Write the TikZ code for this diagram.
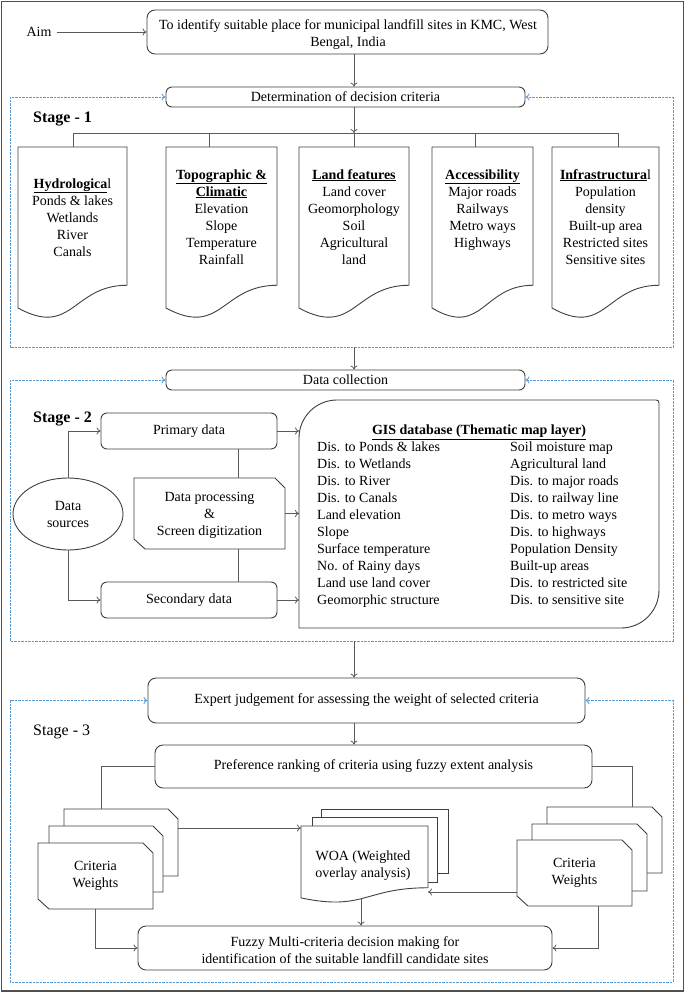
\documentclass[tikz,border=0pt]{standalone}
\usepackage{fontspec}
\setmainfont{Liberation Serif}
\usetikzlibrary{calc,shapes.geometric,arrows.meta}
\definecolor{boxln}{HTML}{3F3F3F}
\definecolor{connln}{HTML}{5A5A5A}
\definecolor{dashbl}{HTML}{5B9BD5}
\definecolor{frameln}{HTML}{505050}

\newcommand\areanode[6][]{\node[inner sep=0pt, outer sep=0pt, minimum width={(#5-#3)*1pt}, minimum height={(#6-#4)*1pt}, #1] (#2) at ({(#3+#5)/2},{(#4+#6)/2}) {};}
\newcommand\mkbox[7][]{\node[rbox, minimum width={(#5-#3)*1pt}, minimum height={(#6-#4)*1pt}, #1] (#2) at ({(#3+#5)/2},{(#4+#6)/2}) {#7};}
\newcommand\docshape[2][]{\draw[boxln, line width=0.9pt, fill=white, #1] (#2.north west) -- (#2.north east) -- ($(#2.north east)!0.802!(#2.south east)$) .. controls ($(#2.north)!0.802!(#2.south)$) and ($(#2.north)!1.107!(#2.south)$) .. ($(#2.north west)!0.934!(#2.south west)$) -- cycle;}
\newcommand\chamshape[3][]{\draw[boxln, line width=0.9pt, fill=white, #1] (#2.north west) -- ($(#2.north east)+(-#3,0)$) -- ($(#2.north east)+(0,#3)$) -- (#2.south east) -- ($(#2.south west)+(#3+1,0)$) -- ($(#2.south west)+(0,-#3)$) -- cycle;}

\begin{document}
\begin{tikzpicture}[x=1pt,y=-1pt,
  >={To[length=4pt,width=7pt]},
  font=\fontsize{14}{17}\selectfont,
  rbox/.style={draw=boxln, line width=0.9pt, rounded corners=6pt, inner sep=0pt, align=center, fill=white},
  txt/.style={inner sep=0pt, align=center},
  conn/.style={draw=connln, line width=0.8pt, ->},
  plain/.style={draw=connln, line width=0.8pt},
  dashline/.style={draw=dashbl, line width=0.9pt, dash pattern=on 2.2pt off 1.3pt, <->},
  stagelbl/.style={inner sep=0pt, anchor=base west, font=\fontsize{16}{19}\selectfont}]

\useasboundingbox (0,0) rectangle (685,993);
\fill[white] (0,0) rectangle (685,993);
\draw[frameln, line width=1.8pt] (1.5,1.5) rectangle (683.5,991);

\coordinate (spine) at (354,0);
\coordinate (L) at (10,0);
\coordinate (R) at (673,0);
\coordinate (S1b) at (0,347);
\coordinate (S2b) at (0,641);
\coordinate (S3b) at (0,982);

% ---------- top ----------
\node[txt] (aim) at (39,32) {Aim};
\mkbox[rounded corners=8pt]{aimbox}{147}{10}{548}{54}{}
\node[txt] (aimt) at (348,35) {To identify suitable place for municipal landfill sites in KMC, West\\Bengal, India};
\draw[conn, shorten <=5pt] (aim) -- (aimbox);

\mkbox{det}{166}{87}{525}{107}{Determination of decision criteria}
\draw[conn] (spine |- aimbox.south) -- (spine |- det.north);
\draw[dashline] (det.west) -- (det.west -| L) -- (L |- S1b) -- (R |- S1b) -- (det.east -| R) -- (det.east);

% ---------- stage 1 ----------
\node[stagelbl, font=\fontsize{16}{19}\selectfont\bfseries] (st1) at (33,122) {Stage - 1};

\areanode{d1}{18}{147}{127}{319.4}
\areanode{d2}{166}{147}{277}{319.4}
\areanode{d3}{299}{147}{409}{319.4}
\areanode{d4}{432}{147}{533}{319.4}
\areanode{d5}{552}{147}{659}{319.4}
\docshape{d1}
\docshape{d2}
\docshape{d3}
\docshape{d4}
\docshape{d5}

\coordinate (b1) at (73,133);
\coordinate (b2) at (209,133);
\coordinate (b3) at (354,133);
\coordinate (b4) at (475,133);
\coordinate (b5) at (618,133);
\draw[conn] (spine |- det.south) -- (b3);
\draw[plain] (b1) -- (b5);
\draw[plain] (b1) -- (b1 |- d1.north);
\draw[plain] (b2) -- (b2 |- d2.north);
\draw[plain] (b3) -- (b3 |- d3.north);
\draw[plain] (b4) -- (b4 |- d4.north);
\draw[plain] (b5) -- (b5 |- d5.north);

\foreach \t [count=\i] in {{\underline{\textbf{Hydrologica}}l}, {Ponds \& lakes}, Wetlands, River, Canals}
  \node[txt, anchor=base] (ha\i) at (72.5,{188+(\i-1)*17}) {\t};
\foreach \t [count=\i] in {{\underline{\textbf{Topographic \&}}}, {\underline{\textbf{Climatic}}}, Elevation, Slope, Temperature, Rainfall}
  \node[txt, anchor=base] (hb\i) at (221.5,{179+(\i-1)*17}) {\t};
\foreach \t [count=\i] in {{\underline{\textbf{Land features}}}, {Land cover}, Geomorphology, Soil, Agricultural, land}
  \node[txt, anchor=base] (hc\i) at (354,{179+(\i-1)*17}) {\t};
\foreach \t [count=\i] in {{\underline{\textbf{Accessibility}}}, {Major roads}, Railways, {Metro ways}, Highways}
  \node[txt, anchor=base] (hd\i) at (482.5,{179+(\i-1)*17}) {\t};
\foreach \t [count=\i] in {{\underline{\textbf{Infrastructura}}l}, Population, density, {Built-up area}, {Restricted sites}, {Sensitive sites}}
  \node[txt, anchor=base] (he\i) at (605.5,{179+(\i-1)*17}) {\t};

% ---------- stage 2 ----------
\mkbox{dc}{166}{370}{525}{390}{Data collection}
\draw[conn] (spine |- S1b) -- (spine |- dc.north);
\draw[dashline] (dc.west) -- (dc.west -| L) -- (L |- S2b) -- (R |- S2b) -- (dc.east -| R) -- (dc.east);
\node[stagelbl, font=\fontsize{16}{19}\selectfont\bfseries] (st2) at (33,422) {Stage - 2};

\mkbox{prim}{101}{413}{277}{449}{Primary data}
\mkbox{sec}{101}{582}{277}{618}{Secondary data}
\areanode{proc}{134}{478}{285}{549}
\chamshape{proc}{10}
\node[txt] (proct) at (209.5,515) {Data processing\\\&\\Screen digitization};
\node[draw=boxln, line width=0.9pt, ellipse, minimum width=110pt, minimum height=72pt, inner sep=0pt, align=center] (ds) at (68,514) {Data\\sources};

\areanode{gis}{299}{400}{659}{628}
\draw[boxln, line width=0.9pt] (gis.south west) -- ($(gis.north west)+(0,38)$) .. controls ($(gis.north west)+(0,17)$) and ($(gis.north west)+(17,0)$) .. ($(gis.north west)+(38,0)$) -- ($(gis.north east)+(-3,0)$) .. controls ($(gis.north east)+(-1,0)$) and ($(gis.north east)+(0,1)$) .. ($(gis.north east)+(0,3)$) -- ($(gis.south east)+(0,-38)$) .. controls ($(gis.south east)+(0,-17)$) and ($(gis.south east)+(-17,0)$) .. ($(gis.south east)+(-38,0)$) -- cycle;
\node[txt, anchor=base] (gish) at (479,434.5) {\underline{\textbf{GIS database (Thematic map layer)}}};
\foreach \t [count=\i] in {{Dis. to Ponds \& lakes}, {Dis. to Wetlands}, {Dis. to River}, {Dis. to Canals}, {Land elevation}, Slope, {Surface temperature}, {No. of Rainy days}, {Land use land cover}, {Geomorphic structure}}
  \node[txt, anchor=base west] (gl\i) at (317,{451+(\i-1)*17.05}) {\t};
\foreach \t [count=\i] in {{Soil moisture map}, {Agricultural land}, {Dis. to major roads}, {Dis. to railway line}, {Dis. to metro ways}, {Dis. to highways}, {Population Density}, {Built-up areas}, {Dis. to restricted site}, {Dis. to sensitive site}}
  \node[txt, anchor=base west] (gr\i) at (510,{451+(\i-1)*17.05}) {\t};

\coordinate (px) at (238,0);
\draw[conn] (ds.north) |- (prim.west);
\draw[conn] (ds.south) |- (sec.west);
\draw[plain] (prim.south -| px) -- (proc.north -| px);
\draw[plain] (proc.south -| px) -- (sec.north -| px);
\draw[conn] (prim.east) -- (prim.east -| gis.west);
\draw[conn] (proc.east) -- (proc.east -| gis.west);
\draw[conn] (sec.east) -- (sec.east -| gis.west);

% ---------- stage 3 ----------
\mkbox[rounded corners=8pt]{exp}{148}{678}{585}{723}{Expert judgement for assessing the weight of selected criteria}
\draw[conn] (spine |- S2b) -- (spine |- exp.north);
\draw[dashline] (exp.west) -- (exp.west -| L) -- (L |- S3b) -- (R |- S3b) -- (exp.east -| R) -- (exp.east);
\node[stagelbl] (st3) at (33,735) {Stage - 3};

\mkbox[rounded corners=8pt]{pref}{155}{745}{592}{788}{Preference ranking of criteria using fuzzy extent analysis}
\draw[conn] (spine |- exp.south) -- (spine |- pref.north);

% left stack
\areanode{lb}{64}{809}{178}{876}
\areanode{lm}{49}{826}{163}{892}
\areanode{lf}{38}{843}{153}{909}
\chamshape{lb}{10}
\chamshape{lm}{10}
\chamshape{lf}{10}
\node[txt] (lft) at (lf.center) {Criteria\\Weights};

% right stack
\areanode{rb}{547}{807}{662}{873}
\areanode{rm}{532}{824}{647}{891}
\areanode{rf}{517}{840}{632}{906}
\chamshape{rb}{10}
\chamshape{rm}{10}
\chamshape{rf}{10}
\node[txt] (rft) at (rf.center) {Criteria\\Weights};

% WOA stack
\areanode{wb}{321}{809}{448}{873}
\areanode{wm}{312}{817}{437}{882}
\areanode{wf}{301}{826}{428}{903}
\draw[boxln, line width=0.9pt, fill=white] (wb.north west) rectangle (wb.south east);
\draw[boxln, line width=0.9pt, fill=white] (wm.north west) rectangle (wm.south east);
\docshape{wf}
\node[txt] (wft) at (363,866) {WOA (Weighted\\overlay analysis)};

\mkbox[rounded corners=8pt]{fz}{138}{926}{552}{970}{}
\node[txt] (fzt) at (345,950.5) {Fuzzy Multi-criteria decision making for\\identification of the suitable landfill candidate sites};

\coordinate (lx) at (101,0);
\coordinate (rx) at (632,0);
\coordinate (ay) at (0,828);
\coordinate (by) at (0,892);
\coordinate (wbot) at (361,898);
\coordinate (rx2) at (598,0);
\draw[plain] (pref.west) -| (lx |- lb.north);
\draw[plain] (pref.east) -| (rx |- rb.north);
\draw[conn] (lb.east |- ay) -- (wf.west |- ay);
\draw[conn] (rf.west |- by) -- (wf.east |- by);
\draw[conn] (wbot) -- (wbot |- fz.north);
\draw[conn] (lf.south) |- (fz.west);
\draw[conn] (rf.south -| rx2) |- (fz.east);
\end{tikzpicture}
\end{document}
